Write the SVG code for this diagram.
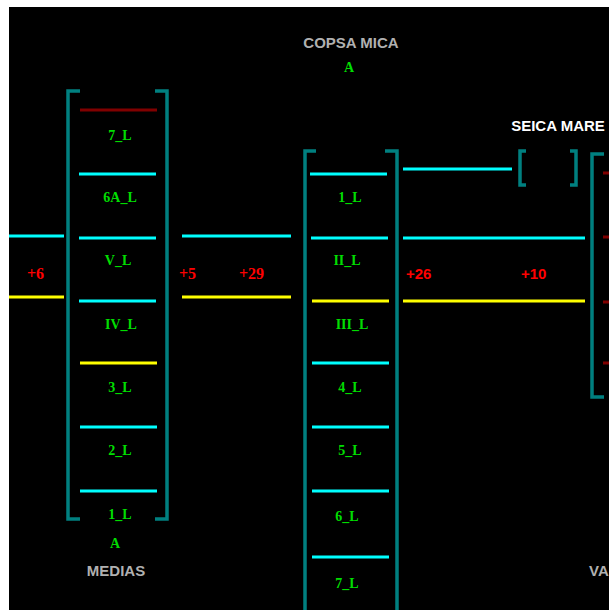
<svg xmlns="http://www.w3.org/2000/svg" width="609" height="610" viewBox="0 0 609 610">
<style>
.br{fill:none;stroke:#008080;stroke-width:3.5}
.cy{stroke:#00ffff;stroke-width:3}
.ye{stroke:#ffff00;stroke-width:3}
.dr{stroke:#800000;stroke-width:3}
.lb{font-family:"Liberation Serif",serif;font-weight:bold;font-size:14px;fill:#00dd00;text-anchor:middle}
.st{font-family:"Liberation Sans",Arial,sans-serif;font-weight:bold;font-size:15px;fill:#b0b0b0;text-anchor:middle}
.rs{font-family:"Liberation Serif",serif;font-weight:bold;font-size:16px;fill:#ff0000}
.rn{font-family:"Liberation Sans",Arial,sans-serif;font-weight:bold;font-size:15px;fill:#ff0000}
</style>
<rect x="0" y="0" width="609" height="610" fill="#ffffff"/>
<rect x="9" y="7" width="600" height="603" fill="#000000"/>
<g id="connectors">
<line class="cy" x1="9" y1="236" x2="64" y2="236"/>
<line class="ye" x1="9" y1="297" x2="64" y2="297"/>
<line class="cy" x1="182" y1="236" x2="291" y2="236"/>
<line class="ye" x1="182" y1="297" x2="291" y2="297"/>
<line class="cy" x1="403" y1="169" x2="512" y2="169"/>
<line class="cy" x1="403" y1="238" x2="585" y2="238"/>
<line class="ye" x1="403" y1="301" x2="585" y2="301"/>
<text class="rs" x="27" y="279">+6</text>
<text class="rs" x="179" y="279">+5</text>
<text class="rs" x="239" y="279">+29</text>
<text class="rn" x="406" y="279">+26</text>
<text class="rn" x="521" y="279">+10</text>
</g>
<g id="medias">
<path class="br" d="M80,91 H68 V519 H80 M155,91 H167 V519 H155"/>
<line class="dr" x1="80" y1="110" x2="157" y2="110"/>
<line class="cy" x1="79" y1="174" x2="156" y2="174"/>
<line class="cy" x1="79" y1="238" x2="156" y2="238"/>
<line class="cy" x1="79" y1="301" x2="156" y2="301"/>
<line class="ye" x1="80" y1="363" x2="157" y2="363"/>
<line class="cy" x1="80" y1="427" x2="157" y2="427"/>
<line class="cy" x1="80" y1="491" x2="157" y2="491"/>
<text class="lb" x="120" y="140">7_L</text>
<text class="lb" x="120" y="202">6A_L</text>
<text class="lb" x="118" y="265">V_L</text>
<text class="lb" x="121" y="329">IV_L</text>
<text class="lb" x="120" y="392">3_L</text>
<text class="lb" x="120" y="455">2_L</text>
<text class="lb" x="120" y="519">1_L</text>
<text class="lb" x="115" y="548">A</text>
<text class="st" x="116" y="576">MEDIAS</text>
</g>
<g id="copsa-mica">
<text class="st" x="351" y="48">COPSA MICA</text>
<text class="lb" x="349" y="72">A</text>
<path class="br" d="M316,151 H305 V612 M385,151 H397 V612"/>
<line class="cy" x1="310" y1="174" x2="387" y2="174"/>
<line class="cy" x1="311" y1="238" x2="388" y2="238"/>
<line class="ye" x1="312" y1="301" x2="389" y2="301"/>
<line class="cy" x1="312" y1="363" x2="389" y2="363"/>
<line class="cy" x1="312" y1="427" x2="389" y2="427"/>
<line class="cy" x1="312" y1="491" x2="389" y2="491"/>
<line class="cy" x1="312" y1="557" x2="389" y2="557"/>
<text class="lb" x="350" y="202">1_L</text>
<text class="lb" x="347" y="265">II_L</text>
<text class="lb" x="352" y="329">III_L</text>
<text class="lb" x="350" y="392">4_L</text>
<text class="lb" x="350" y="455">5_L</text>
<text class="lb" x="347" y="521">6_L</text>
<text class="lb" x="347" y="588">7_L</text>
</g>
<g id="seica-mare">
<text class="st" x="558" y="131" style="fill:#ffffff">SEICA MARE</text>
<path class="br" d="M526,151 H520 V185 H526 M570,151 H576 V185 H570"/>
</g>
<g id="right-station">
<path class="br" d="M604,154 H592 V397 H604"/>
<line class="dr" x1="603" y1="173" x2="609" y2="173"/>
<line class="dr" x1="603" y1="237" x2="609" y2="237"/>
<line class="dr" x1="603" y1="302" x2="609" y2="302"/>
<line class="dr" x1="603" y1="363" x2="609" y2="363"/>
</g>
<g id="va">
<text class="st" x="589" y="576" style="text-anchor:start">VA</text>
</g>
</svg>
